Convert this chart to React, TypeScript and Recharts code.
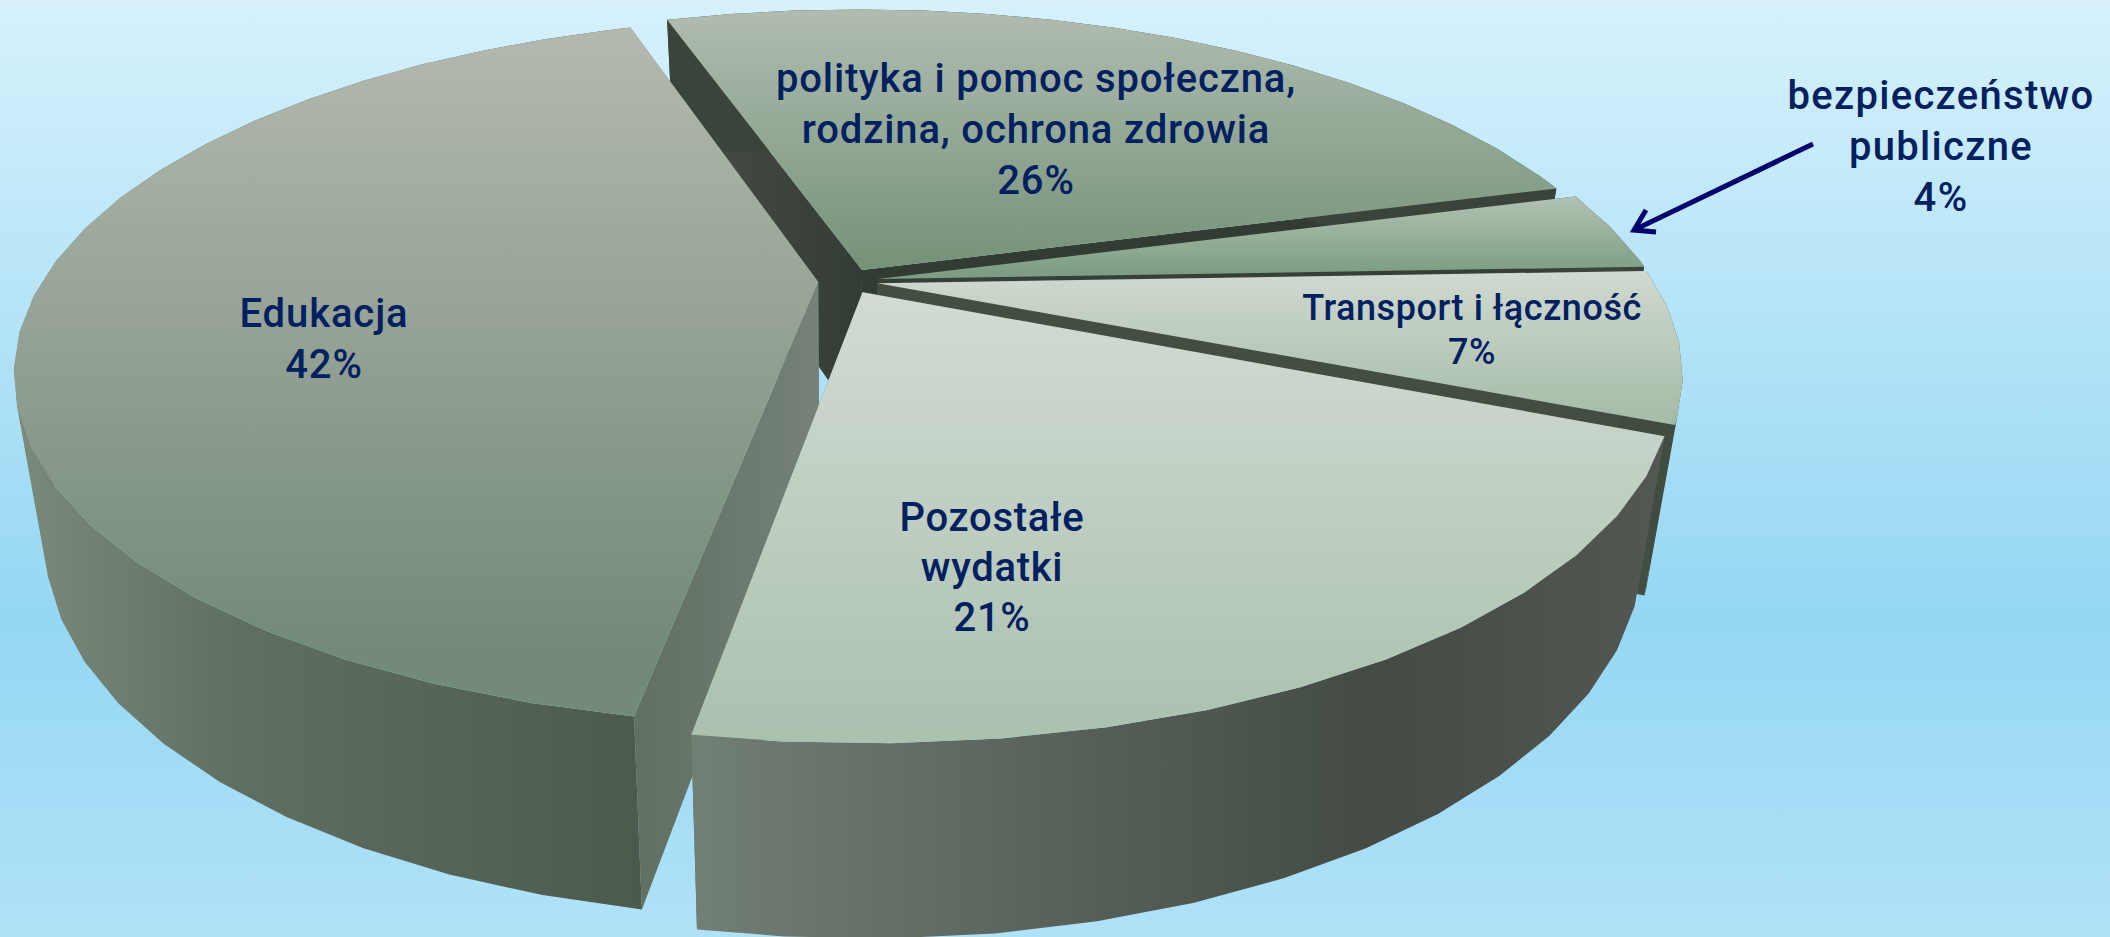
import { PieChart, Pie } from 'recharts';

const categories = [
  'polityka i pomoc społeczna, rodzina, ochrona zdrowia',
  'bezpieczeństwo publiczne',
  'Transport i łączność',
  'Pozostałe wydatki',
  'Edukacja',
];
// unrounded shares as measured from the slice edges; labels show them rounded
const shares = [25.7, 3.7, 6.9, 21.4, 42.3];

// wrapped label text, one list per category
const labelLines = [
  ['polityka i pomoc społeczna,', 'rodzina, ochrona zdrowia'],
  ['bezpieczeństwo', 'publiczne'],
  ['Transport i łączność'],
  ['Pozostałe', 'wydatki'],
  ['Edukacja'],
];

const pieData = categories.map((name, i) => ({ name, value: shares[i] }));

// back to front, so the nearer slices cover the walls of the farther ones
const paintOrder = [0, 1, 2, 4, 3];

const WIDTH = 2110;
const HEIGHT = 937;

// fake 3D: the library gives the angles, these project them onto a tilted disc
const SQUASH = 331 / 776;
const PERSPECTIVE = 0.2515;
const LOWER_X = 0.963;
const LOWER_Y_SHIFT = 159;
const LOWER_SQUASH = 357 / 776;
const EXPLODE = 0.0385;
const FACET = 6;

const topFace = [
  ['#b0bcb0', '#749278', 10, 270],
  ['#b3c3b3', '#7d9e84', 195, 272],
  ['#d0d9d0', '#a3baa5', 272, 430],
  ['#d3dbd4', '#aac1ae', 290, 740],
  ['#b4b9b0', '#738a78', 27, 650],
];
const rimStops = [
  [['#3a443a', 0], ['#3a443a', 1]],
  [['#3a443a', 0], ['#3a443a', 1]],
  [['#414c41', 0], ['#414c41', 1]],
  [['#727f74', 0], ['#566059', 0.4], ['#434b43', 0.7], ['#545753', 1]],
  [['#7a8a7c', 0], ['#5f6f62', 0.35], ['#4b5a4c', 1]],
];
const wallStops = [
  [['#4a4f48', 0], ['#333c33', 1]],
  [['#364036', 0], ['#364036', 1]],
  [['#555a53', 0], ['#434e43', 1]],
  [['#5f6f60', 0], ['#5f6f60', 1]],
  [['#5f6f60', 0], ['#75817a', 1]],
];

const labelAnchors = [
  { x: 1036, y: 92, size: 40, spacing: 0.85, gap: 51 },
  { x: 1941, y: 109, size: 40, spacing: 1.3, gap: 51 },
  { x: 1472, y: 320, size: 36, spacing: 0.55, gap: 44 },
  { x: 992, y: 531, size: 40, spacing: 0.7, gap: 50 },
  { x: 324, y: 327, size: 40, spacing: 0.9, gap: 51 },
];

const toPath = (pts: number[][]) =>
  'M' + pts.map((p) => `${p[0].toFixed(1)},${p[1].toFixed(1)}`).join('L') + 'Z';

// one quad per facet, all wound the same way so the overlaps at the silhouette stay filled
function rimPath(upper: number[][], below: number[][]) {
  let d = '';
  for (let i = 0; i < upper.length - 1; i++) {
    const quad = [upper[i], upper[i + 1], below[i + 1], below[i]];
    let area = 0;
    quad.forEach((p, j) => {
      const q = quad[(j + 1) % 4];
      area += p[0] * q[1] - q[0] * p[1];
    });
    d += toPath(area < 0 ? quad.reverse() : quad);
  }
  return d;
}

function Stops({ stops }: { stops: any[] }) {
  return (
    <>
      {stops.map(([color, at], i) => (
        <stop key={i} offset={at} stopColor={color} />
      ))}
    </>
  );
}

function Slice3D(props: any) {
  const { cx, cy, outerRadius, startAngle, endAngle, name } = props;
  const idx = categories.indexOf(name);
  const R = outerRadius;
  const rad = (a: number) => (a * Math.PI) / 180;
  const mid = rad((startAngle + endAngle) / 2);
  const ox = EXPLODE * Math.cos(mid);
  const oy = EXPLODE * Math.sin(mid);

  const project = (u: number, v: number, lower: boolean) => {
    const w = 1 + PERSPECTIVE * v;
    if (lower) {
      return [cx + (LOWER_X * R * u) / w, cy + LOWER_Y_SHIFT - (LOWER_SQUASH * R * v) / w];
    }
    return [cx + (R * u) / w, cy - (SQUASH * R * v) / w];
  };

  const angles: number[] = [];
  for (let a = startAngle; a > endAngle; a -= FACET) angles.push(a);
  angles.push(endAngle);

  const rim = (lower: boolean) =>
    angles.map((a) => project(ox + Math.cos(rad(a)), oy + Math.sin(rad(a)), lower));
  const upper = rim(false);
  const below = rim(true);
  const apex = project(ox, oy, false);
  const apexLow = project(ox, oy, true);

  const xs = below.concat(upper).map((p) => p[0]);
  const minX = Math.min(...xs);
  const maxX = Math.max(...xs);
  const [c1, c2, y1, y2] = topFace[idx] as any[];

  return (
    <g>
      <defs>
        <linearGradient id={`top${idx}`} gradientUnits="userSpaceOnUse" x1="0" x2="0" y1={y1} y2={y2}>
          <stop offset="0" stopColor={c1} />
          <stop offset="1" stopColor={c2} />
        </linearGradient>
        <linearGradient id={`rim${idx}`} gradientUnits="userSpaceOnUse" x1={minX} x2={maxX} y1="0" y2="0">
          <Stops stops={rimStops[idx]} />
        </linearGradient>
        <linearGradient id={`wall${idx}`} gradientUnits="userSpaceOnUse" x1={Math.min(upper[0][0], upper[upper.length - 1][0], apex[0])} x2={apex[0]} y1="0" y2="0">
          <Stops stops={wallStops[idx]} />
        </linearGradient>
      </defs>
      <path d={toPath([apex, upper[0], below[0], apexLow])} fill={`url(#wall${idx})`} />
      <path d={toPath([apex, upper[upper.length - 1], below[below.length - 1], apexLow])} fill={`url(#wall${idx})`} />
      <path d={rimPath(upper, below)} fill={`url(#rim${idx})`} />
      <path d={toPath([apex, ...upper])} fill={`url(#top${idx})`} />
    </g>
  );
}

function SliceLabel(props: any) {
  const idx = categories.indexOf(props.name);
  const a = labelAnchors[idx];
  const lines = [...labelLines[idx], `${Math.round(shares[idx])}%`];
  return (
    <g>
      <text
        textAnchor="middle"
        fill="#002060"
        fontFamily="Roboto, sans-serif"
        fontWeight={500}
        fontSize={a.size}
        letterSpacing={a.spacing}
      >
        {lines.map((line, i) => (
          <tspan key={i} x={a.x} y={a.y + i * a.gap}>
            {line}
          </tspan>
        ))}
      </text>
      {idx === 1 && (
        <g stroke="#00006e" strokeWidth={5} fill="none">
          <path d="M1813,144L1634,230" />
          <path d="M1646,210L1634,230L1656,232" />
        </g>
      )}
    </g>
  );
}

export default function App() {
  return (
    <div
      style={{
        position: 'absolute',
        left: 0,
        top: 0,
        width: WIDTH,
        height: HEIGHT,
        overflow: 'hidden',
        background: 'linear-gradient(180deg, #d6f1fc 0%, #95d7f3 66%, #b0e2f7 100%)',
      }}
    >
      <PieChart width={WIDTH} height={HEIGHT} margin={{ top: 0, right: 0, bottom: 0, left: 0 }}>
        {paintOrder.map((idx) => {
          const draw = (p: any) => (p.name === categories[idx] ? <Slice3D {...p} /> : <g />);
          return (
            <Pie
              key={idx}
              data={pieData}
              dataKey="value"
              nameKey="name"
              cx={848}
              cy={281}
              innerRadius={0}
              outerRadius={776}
              startAngle={108}
              endAngle={-252}
              stroke="none"
              isAnimationActive={false}
              shape={draw}
              inactiveShape={draw}
            />
          );
        })}
        <Pie
          data={pieData}
          dataKey="value"
          nameKey="name"
          cx={848}
          cy={281}
          innerRadius={0}
          outerRadius={776}
          startAngle={108}
          endAngle={-252}
          fill="none"
          stroke="none"
          isAnimationActive={false}
          labelLine={false}
          label={(p: any) => <SliceLabel {...p} />}
        />
      </PieChart>
    </div>
  );
}
